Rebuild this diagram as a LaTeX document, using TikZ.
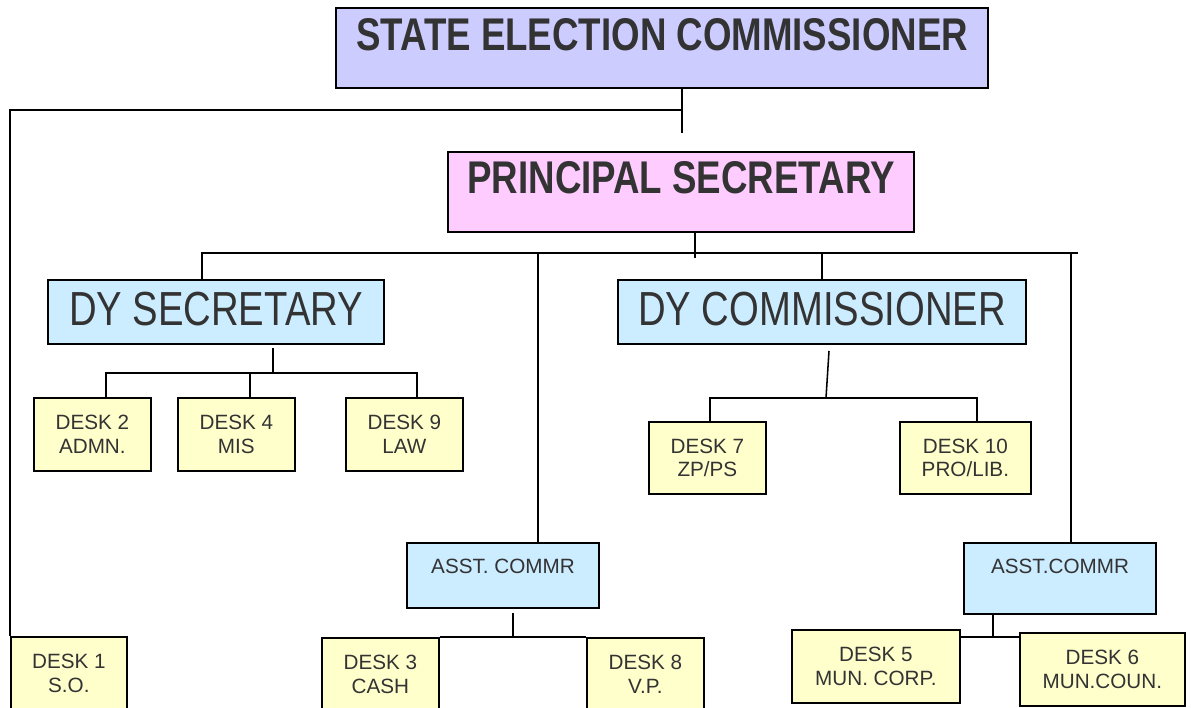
\documentclass[tikz,border=0pt]{standalone}
\usepackage{fontspec}
\setmainfont{Liberation Sans}
\newfontfamily\narrowfont[FakeStretch=0.8]{Liberation Sans}
\definecolor{secblue}{HTML}{CCCCFF}
\definecolor{pspink}{HTML}{FFCCFF}
\definecolor{dyblue}{HTML}{CCECFF}
\definecolor{deskyellow}{HTML}{FFFFCC}
\definecolor{textgrey}{HTML}{333333}
\tikzset{
  box/.style={draw, line width=1.4pt, inner sep=0pt, anchor=north west, text=textgrey},
  head/.style={box, font=\narrowfont\bfseries\fontsize{32.6}{36}\selectfont},
  dyhead/.style={box, fill=dyblue, minimum height=1.6cm, text height=1.15cm, text depth=0.45cm, font=\narrowfont\fontsize{34}{38}\selectfont},
  asst/.style={box, fill=dyblue, minimum width=4.8cm, text height=0.775cm, font=\fontsize{14.7}{17}\selectfont},
  desk/.style={box, fill=deskyellow, line width=1.2pt, align=center, minimum width=2.925cm, minimum height=1.825cm, font=\fontsize{14.7}{17}\selectfont},
  link/.style={line width=1.1pt}
}
\begin{document}
\begin{tikzpicture}[x=0.025cm, y=-0.025cm]
\clip (0,0) rectangle (1191,708);
\fill[white] (0,0) rectangle (1191,708);

\node[head, fill=secblue, minimum width=16.3cm, text height=1.075cm, text depth=0.925cm] (sec) at (335,7) {STATE ELECTION COMMISSIONER};
\node[head, fill=pspink, minimum width=11.65cm, text height=1.05cm, text depth=0.95cm] (ps) at (447,151) {PRINCIPAL SECRETARY};
\node[dyhead, minimum width=8.4cm] (dysec) at (47,279) {DY SECRETARY};
\node[dyhead, minimum width=10.2cm] (dycom) at (617,279) {DY COMMISSIONER};
\node[desk] (d2) at (33,397) {DESK 2\\ADMN.};
\node[desk] (d4) at (177,397) {DESK 4\\MIS};
\node[desk] (d9) at (345,397) {DESK 9\\LAW};
\node[desk, minimum height=1.8cm] (d7) at (648,421) {DESK 7\\ZP/PS};
\node[desk, minimum width=3.275cm, minimum height=1.8cm] (d10) at (899,421) {DESK 10\\PRO/LIB.};
\node[asst, text depth=0.85cm] (asstl) at (406,542) {ASST. COMMR};
\node[asst, text depth=1cm] (asstr) at (963,542) {ASST.COMMR};
\node[desk, minimum width=2.9cm] (d1) at (10,636) {DESK 1\\S.O.};
\node[desk] (d3) at (321,637) {DESK 3\\CASH};
\node[desk] (d8) at (586,637) {DESK 8\\V.P.};
\node[desk, minimum width=4.2cm] (d5) at (791,629) {DESK 5\\MUN. CORP.};
\node[desk, minimum width=4.125cm] (d6) at (1019,632) {DESK 6\\MUN.COUN.};

\coordinate (s1) at (682,110);
\coordinate (s1e) at (682,133);
\draw[link] (sec.south -| s1) -- (s1e);
\draw[link] (s1) -| (d1.north west);

\coordinate (s2) at (695,258);
\coordinate (b2l) at (202,253);
\coordinate (b2a) at (538,253);
\coordinate (b2d) at (1071,253);
\coordinate (b2r) at (1078,253);
\draw[link] (ps.south -| s2) -- (s2);
\draw[link] (b2l |- dysec.north) -- (b2l) -- (b2r);
\draw[link] (b2a) -- (b2a |- asstl.north);
\draw[link] (dycom.north |- b2l) -- (dycom.north);
\draw[link] (b2d) -- (b2d |- asstr.north);

\coordinate (s3) at (273,373);
\coordinate (b3l) at (106,373);
\coordinate (b3m) at (250,373);
\coordinate (b3r) at (417,373);
\draw[link] (s3) -- ++(0,-25);
\draw[link] (b3l |- d2.north) -- (b3l) -- (b3r) -- (b3r |- d9.north);
\draw[link] (b3m) -- (b3m |- d4.north);

\coordinate (s4) at (826,398);
\coordinate (b4l) at (710,398);
\coordinate (b4r) at (977,398);
\draw[link] (s4) -- ++(3,-47);
\draw[link] (b4l |- d7.north) -- (b4l) -- (b4r) -- (b4r |- d10.north);

\coordinate (s5) at (513,637);
\draw[link] (s5) -- ++(0,-24);
\draw[link] (d3.north east) -- (d8.north west);

\coordinate (s6) at (993,637);
\draw[link] (s6) -- ++(0,-24);
\draw[link] (d5.east |- s6) -- (d6.west |- s6);
\end{tikzpicture}
\end{document}
